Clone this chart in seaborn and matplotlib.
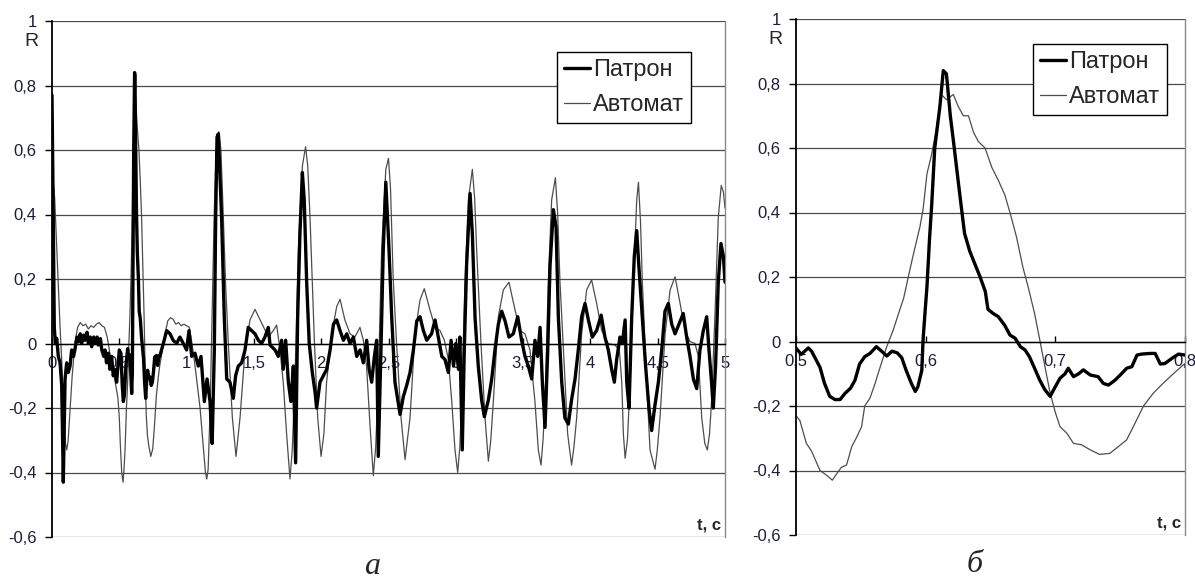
import matplotlib
matplotlib.use("Agg")
import matplotlib.pyplot as plt
from matplotlib.ticker import FuncFormatter
import seaborn as sns

# ---- data ----
# panel a: whole record, 0..5 s
t_patron = [0.0, 0.008, 0.017, 0.025, 0.035, 0.047, 0.06, 0.072, 0.084, 0.097, 0.109, 0.121, 0.134,
            0.146, 0.16, 0.17, 0.185, 0.196, 0.21, 0.22, 0.235, 0.245, 0.26, 0.27, 0.285, 0.295,
            0.31, 0.32, 0.335, 0.344, 0.36, 0.37, 0.385, 0.394, 0.405, 0.419, 0.43, 0.443, 0.455,
            0.468, 0.48, 0.49, 0.5, 0.512, 0.522, 0.53, 0.538, 0.549, 0.562, 0.57, 0.578, 0.585,
            0.592, 0.597, 0.5995, 0.603, 0.607, 0.6136, 0.616, 0.6213, 0.628, 0.634, 0.642, 0.648,
            0.656, 0.665, 0.673, 0.68, 0.688, 0.696, 0.7036, 0.71, 0.718, 0.727, 0.737, 0.746,
            0.755, 0.763, 0.777, 0.785, 0.795, 0.8, 0.827, 0.852, 0.877, 0.9, 0.926, 0.95, 0.976,
            1.0, 1.018, 1.038, 1.062, 1.087, 1.107, 1.132, 1.152, 1.174, 1.19, 1.206, 1.216, 1.226,
            1.236, 1.245, 1.26, 1.28, 1.298, 1.322, 1.347, 1.364, 1.384, 1.409, 1.434, 1.458,
            1.483, 1.508, 1.533, 1.557, 1.582, 1.607, 1.62, 1.632, 1.657, 1.681, 1.706, 1.718,
            1.736, 1.756, 1.775, 1.793, 1.81, 1.825, 1.842, 1.86, 1.874, 1.892, 1.911, 1.934,
            1.954, 1.966, 1.991, 2.016, 2.041, 2.066, 2.091, 2.115, 2.14, 2.165, 2.19, 2.214,
            2.239, 2.264, 2.289, 2.313, 2.338, 2.356, 2.375, 2.395, 2.412, 2.424, 2.444, 2.461,
            2.48, 2.504, 2.524, 2.548, 2.586, 2.61, 2.635, 2.66, 2.685, 2.71, 2.734, 2.759, 2.784,
            2.82, 2.846, 2.87, 2.896, 2.92, 2.945, 2.965, 2.983, 3.0, 3.02, 3.03, 3.048, 3.063,
            3.08, 3.106, 3.123, 3.143, 3.167, 3.192, 3.212, 3.242, 3.267, 3.291, 3.316, 3.341,
            3.366, 3.395, 3.427, 3.46, 3.489, 3.514, 3.539, 3.564, 3.588, 3.608, 3.626, 3.643,
            3.663, 3.683, 3.7, 3.725, 3.745, 3.762, 3.787, 3.81, 3.836, 3.86, 3.886, 3.91, 3.935,
            3.96, 3.985, 4.014, 4.046, 4.08, 4.108, 4.133, 4.158, 4.178, 4.195, 4.22, 4.237, 4.258,
            4.27, 4.287, 4.307, 4.326, 4.344, 4.36, 4.386, 4.41, 4.435, 4.455, 4.48, 4.505, 4.53,
            4.554, 4.579, 4.604, 4.629, 4.658, 4.69, 4.715, 4.74, 4.765, 4.79, 4.814, 4.839,
            4.864, 4.881, 4.9, 4.913, 4.93, 4.95, 4.97, 4.988, 5.0]
patron = [0.77, 0.45, 0.05, 0.0, 0.016, -0.04, -0.06, -0.13, -0.43, -0.11, -0.06, -0.09, -0.07,
          -0.02, -0.04, -0.02, 0.02, 0.005, 0.03, 0.0, 0.026, 0.01, 0.035, 0.0, 0.02, -0.01,
          0.02, 0.0, 0.02, -0.005, 0.015, -0.02, -0.04, -0.02, -0.06, -0.03, -0.08, -0.04, -0.1,
          -0.08, -0.12, -0.07, -0.02, -0.03, -0.13, -0.18, -0.16, -0.07, -0.016, -0.045, -0.035, -0.09,
          -0.155, -0.09, 0.09, 0.335, 0.6, 0.84, 0.83, 0.625, 0.4, 0.28, 0.2, 0.1,
          0.077, 0.02, -0.016, -0.047, -0.12, -0.17, -0.114, -0.083, -0.1, -0.104, -0.13, -0.12,
          -0.083, -0.042, -0.037, -0.068, -0.039, -0.04, 0.0, 0.04, 0.03, 0.01, 0.0, 0.02, 0.0,
          -0.02, 0.04, -0.04, -0.03, -0.07, -0.04, -0.18, -0.11, -0.18, -0.31, -0.02, 0.39, 0.64,
          0.65, 0.55, 0.39, 0.08, -0.11, -0.12, -0.17, -0.1, -0.07, -0.06, -0.02, 0.05,
          0.04, 0.03, 0.01, 0.0, 0.02, 0.05, -0.005, -0.01, -0.02, -0.04, 0.01, -0.08,
          0.01, -0.12, -0.18, -0.07, -0.37, 0.08, 0.34, 0.53, 0.445, 0.19, 0.0, -0.09,
          -0.15, -0.2, -0.12, -0.1, -0.08, -0.02, 0.06, 0.073, 0.04, 0.01, 0.03, 0.0,
          0.02, -0.04, -0.02, -0.06, 0.01, -0.08, -0.12, -0.04, 0.01, -0.35, -0.02, 0.29,
          0.5, 0.29, 0.08, -0.12, -0.22, -0.165, -0.13, -0.09, -0.02, 0.07, 0.083, 0.04, 0.01,
          0.03, 0.073, 0.02, -0.04, -0.05, -0.09, 0.01, -0.07, 0.0, -0.08, 0.02, -0.33, -0.02,
          0.24, 0.465, 0.34, 0.08, -0.07, -0.175, -0.227, -0.175, -0.11, -0.02, 0.06, 0.1,
          0.07, 0.02, 0.03, 0.083, 0.01, -0.04, -0.07, -0.11, 0.01, -0.04, 0.05, -0.12,
          -0.26, -0.02, 0.24, 0.415, 0.36, 0.08, -0.12, -0.23, -0.25, -0.175, -0.11, -0.02, 0.083,
          0.124, 0.073, 0.02, 0.04, 0.088, 0.02, -0.02, -0.08, -0.12, -0.05, 0.02, 0.0, 0.073,
          -0.12, -0.2, 0.083, 0.27, 0.35, 0.24, 0.08, -0.07, -0.2, -0.27, -0.19, -0.12, -0.02,
          0.1, 0.124, 0.06, 0.03, 0.06, 0.093, 0.02, -0.04, -0.11, -0.14, -0.02, 0.04,
          0.083, -0.02, -0.12, -0.2, -0.07, 0.19, 0.31, 0.27, 0.19]

t_avtomat = [0.0, 0.02, 0.035, 0.047, 0.06, 0.072, 0.085, 0.1, 0.11, 0.12, 0.135, 0.15, 0.17, 0.19,
             0.21, 0.23, 0.25, 0.27, 0.29, 0.31, 0.33, 0.35, 0.37, 0.39, 0.41, 0.43, 0.45, 0.47,
             0.49, 0.5, 0.508, 0.518, 0.528, 0.535, 0.543, 0.553, 0.561, 0.57, 0.58, 0.5866,
             0.5956, 0.601, 0.6085, 0.6123, 0.616, 0.6213, 0.629, 0.6368, 0.6458, 0.656, 0.665,
             0.675, 0.684, 0.692, 0.7, 0.709, 0.72, 0.734, 0.7486, 0.7614, 0.7756, 0.791, 0.8,
             0.82, 0.84, 0.86, 0.88, 0.9, 0.92, 0.94, 0.96, 0.98, 1.0, 1.02, 1.04, 1.06, 1.08,
             1.1, 1.12, 1.14, 1.15, 1.16, 1.175, 1.19, 1.205, 1.22, 1.24, 1.255, 1.273, 1.29,
             1.31, 1.34, 1.367, 1.397, 1.434, 1.471, 1.508, 1.558, 1.608, 1.644, 1.669, 1.694,
             1.718, 1.743, 1.768, 1.785, 1.805, 1.83, 1.86, 1.884, 1.9, 1.917, 1.95, 1.974,
             1.999, 2.02, 2.04, 2.078, 2.115, 2.14, 2.176, 2.214, 2.25, 2.288, 2.313, 2.337,
             2.362, 2.387, 2.405, 2.424, 2.449, 2.48, 2.5, 2.515, 2.535, 2.56, 2.593, 2.623,
             2.64, 2.66, 2.697, 2.734, 2.766, 2.808, 2.846, 2.883, 2.915, 2.945, 2.97, 2.994,
             3.014, 3.03, 3.044, 3.068, 3.093, 3.123, 3.14, 3.155, 3.187, 3.217, 3.242, 3.26,
             3.279, 3.316, 3.353, 3.395, 3.44, 3.477, 3.514, 3.551, 3.588, 3.613, 3.633, 3.648,
             3.663, 3.687, 3.712, 3.74, 3.757, 3.774, 3.806, 3.831, 3.86, 3.878, 3.898, 3.935,
             3.972, 4.009, 4.046, 4.084, 4.133, 4.183, 4.215, 4.233, 4.245, 4.258, 4.275, 4.295,
             4.32, 4.344, 4.357, 4.372, 4.386, 4.418, 4.443, 4.48, 4.497, 4.517, 4.555, 4.592,
             4.629, 4.666, 4.703, 4.74, 4.777, 4.802, 4.827, 4.85, 4.869, 4.885, 4.9, 4.925,
             4.95, 4.972, 4.988, 5.0]
avtomat = [0.55, 0.45, 0.3, 0.18, 0.05, -0.05, -0.2, -0.31, -0.33, -0.3, -0.2, -0.1, 0.0, 0.05,
           0.065, 0.055, 0.06, 0.045, 0.055, 0.05, 0.06, 0.065, 0.055, 0.05, 0.02, -0.03, -0.08, -0.12,
           -0.17, -0.23, -0.316, -0.4, -0.43, -0.39, -0.326, -0.2, -0.13, -0.016, 0.098, 0.2,
           0.356, 0.52, 0.666, 0.765, 0.75, 0.766, 0.7, 0.65, 0.6, 0.5, 0.4,
           0.23, 0.087, -0.078, -0.22, -0.285, -0.32, -0.35, -0.326, -0.254, -0.16, -0.1, -0.07,
           -0.02, 0.03, 0.07, 0.08, 0.075, 0.06, 0.065, 0.055, 0.06, 0.055, 0.05, 0.0, -0.06, -0.13,
           -0.2, -0.3, -0.4, -0.42, -0.39, -0.2, 0.1, 0.4, 0.6, 0.657, 0.6, 0.39, 0.18,
           0.0, -0.23, -0.35, -0.23, -0.02, 0.073, 0.106, 0.063, 0.02, 0.04, 0.057, -0.02,
           -0.12, -0.28, -0.42, -0.33, -0.12, 0.29, 0.55, 0.61, 0.55, 0.39, 0.0, -0.23,
           -0.35, -0.28, -0.12, 0.03, 0.114, 0.137, 0.073, 0.03, 0.02, 0.05, 0.01, -0.07,
           -0.25, -0.41, -0.32, -0.12, 0.29, 0.54, 0.574, 0.48, 0.2, 0.0, -0.23, -0.36,
           -0.3, -0.23, 0.03, 0.135, 0.17, 0.104, 0.05, 0.04, 0.01, -0.05, -0.18, -0.33,
           -0.4, -0.32, -0.18, 0.19, 0.445, 0.54, 0.45, 0.29, 0.0, -0.23, -0.365, -0.3,
           -0.18, 0.083, 0.166, 0.19, 0.104, 0.04, 0.03, -0.02, -0.18, -0.33, -0.377, -0.3,
           -0.18, 0.19, 0.445, 0.514, 0.4, 0.19, -0.07, -0.28, -0.377, -0.32, -0.23, 0.03,
           0.166, 0.197, 0.125, 0.04, 0.0, -0.005, -0.02, -0.12, -0.28, -0.356, -0.3, -0.12,
           0.19, 0.445, 0.5, 0.38, 0.19, -0.12, -0.33, -0.39, -0.33, -0.23, 0.03, 0.166,
           0.207, 0.125, 0.04, 0.006, 0.0, -0.04, -0.23, -0.31, -0.33, -0.28, -0.18, 0.083,
           0.39, 0.49, 0.47, 0.42]

# panel б: one shot, 0.5..0.8 s
tz_patron = [0.5, 0.504, 0.5095, 0.512, 0.5185, 0.522, 0.526, 0.53, 0.534, 0.538, 0.542, 0.5455,
             0.549, 0.553, 0.557, 0.562, 0.566, 0.57, 0.574, 0.578, 0.5815, 0.585, 0.589, 0.592,
             0.594, 0.597, 0.598, 0.5995, 0.601, 0.603, 0.6046, 0.607, 0.611, 0.6136, 0.616,
             0.619, 0.6213, 0.625, 0.628, 0.63, 0.634, 0.638, 0.642, 0.646, 0.648, 0.652, 0.656,
             0.661, 0.665, 0.669, 0.673, 0.6766, 0.68, 0.684, 0.688, 0.692, 0.696, 0.7, 0.7036,
             0.7075, 0.71, 0.714, 0.718, 0.7216, 0.727, 0.733, 0.737, 0.741, 0.746, 0.751, 0.755,
             0.759, 0.763, 0.7666, 0.773, 0.777, 0.781, 0.7846, 0.79, 0.795, 0.8]
zoom_patron = [-0.02, -0.04, -0.02, -0.03, -0.08, -0.13, -0.17, -0.18, -0.18, -0.16, -0.145, -0.12,
               -0.07, -0.047, -0.037, -0.016, -0.03, -0.045, -0.03, -0.035, -0.05, -0.09, -0.13, -0.155,
               -0.14, -0.09, 0.005, 0.09, 0.17, 0.32, 0.42, 0.6, 0.73, 0.84, 0.83,
               0.7, 0.625, 0.5, 0.4, 0.335, 0.28, 0.24, 0.2, 0.155, 0.1, 0.087, 0.077,
               0.05, 0.02, 0.01, -0.016, -0.026, -0.047, -0.083, -0.12, -0.15, -0.17, -0.14, -0.114,
               -0.1, -0.083, -0.109, -0.1, -0.088, -0.104, -0.109, -0.13, -0.135, -0.12, -0.1, -0.083,
               -0.078, -0.042, -0.039, -0.037, -0.037, -0.07, -0.068, -0.052, -0.039, -0.042]

tz_avtomat = [0.5, 0.503, 0.508, 0.512, 0.5185, 0.5237, 0.528, 0.5314, 0.535, 0.539, 0.543, 0.547,
              0.5506, 0.553, 0.557, 0.561, 0.565, 0.57, 0.575, 0.58, 0.583, 0.5866, 0.5905, 0.5956,
              0.598, 0.601, 0.6046, 0.6085, 0.6123, 0.616, 0.6213, 0.625, 0.629, 0.633, 0.6368,
              0.6406, 0.6458, 0.651, 0.656, 0.661, 0.665, 0.67, 0.675, 0.679, 0.684, 0.688, 0.692,
              0.696, 0.7, 0.7036, 0.709, 0.714, 0.72, 0.727, 0.734, 0.742, 0.7486, 0.755, 0.7614,
              0.768, 0.7756, 0.783, 0.791, 0.8]
zoom_avtomat = [-0.23, -0.245, -0.316, -0.34, -0.4, -0.415, -0.43, -0.41, -0.39, -0.383, -0.326, -0.295,
                -0.264, -0.2, -0.176, -0.13, -0.078, -0.016, 0.036, 0.098, 0.134, 0.2, 0.27, 0.356,
                0.41, 0.52, 0.58, 0.666, 0.765, 0.75, 0.766, 0.73, 0.7, 0.7, 0.65,
                0.62, 0.6, 0.54, 0.5, 0.455, 0.4, 0.325, 0.23, 0.17, 0.087, 0.005, -0.078,
                -0.16, -0.22, -0.264, -0.285, -0.316, -0.32, -0.336, -0.35, -0.347, -0.326, -0.305, -0.254,
                -0.2, -0.16, -0.13, -0.1, -0.068]

series_names = ["Патрон", "Автомат"]
y_ticks = [-0.6, -0.4, -0.2, 0.0, 0.2, 0.4, 0.6, 0.8, 1.0]
x_ticks_full = [0, 0.5, 1, 1.5, 2, 2.5, 3, 3.5, 4, 4.5, 5]
x_ticks_zoom = [0.5, 0.6, 0.7, 0.8]


def comma_fmt(v, pos=None):
    s = f"{v:.1f}".replace(".", ",")
    if s.endswith(",0"):
        s = s[:-2]
    if s == "-0":
        s = "0"
    return s


sns.set_style("white")
plt.rcParams['font.family'] = ['Liberation Sans', 'DejaVu Sans']

TICK_COLOR = "#1c1c3c"
GRID_COLOR = "#4a4a4a"
THIN_COLOR = "#4d4d4d"


def draw_panel(ax, t1, y1, t2, y2, xlim, xticks, legend_xy):
    sns.lineplot(x=t2, y=y2, ax=ax, color=THIN_COLOR, linewidth=0.9, sort=False,
                 estimator=None, zorder=2, label=series_names[1])
    sns.lineplot(x=t1, y=y1, ax=ax, color="black", linewidth=2.4, sort=False,
                 estimator=None, zorder=3, label=series_names[0])
    ax.set_xlim(*xlim)
    ax.set_ylim(-0.6, 1.0)
    ax.set_yticks(y_ticks)
    ax.set_xticks(xticks)
    ax.xaxis.set_major_formatter(FuncFormatter(comma_fmt))
    ax.yaxis.set_major_formatter(FuncFormatter(comma_fmt))
    ax.set_xlabel("")
    ax.set_ylabel("")

    ax.set_axisbelow(True)
    ax.yaxis.grid(True, color=GRID_COLOR, linewidth=0.9)
    ax.xaxis.grid(False)

    # x axis crosses at zero, like the original spreadsheet chart
    ax.spines["bottom"].set_position(("data", 0))
    ax.spines["bottom"].set_color("black")
    ax.spines["bottom"].set_linewidth(1.0)
    ax.spines["left"].set_color("black")
    ax.spines["left"].set_linewidth(1.3)
    ax.spines["right"].set_visible(True)
    ax.spines["right"].set_color("#8a8a8a")
    ax.spines["right"].set_linewidth(1.0)
    ax.spines["top"].set_visible(False)

    ax.tick_params(axis="x", direction="in", length=4, width=1, pad=9,
                   labelsize=12, labelcolor=TICK_COLOR, bottom=True, color="black")
    ax.tick_params(axis="y", direction="out", length=5, width=1, pad=6,
                   labelsize=12, labelcolor=TICK_COLOR, left=True, color="black")

    ax.annotate("R", xy=(0, 1), xycoords="axes fraction", xytext=(-14.5, -15),
                textcoords="offset points", ha="center", va="center", fontsize=14)
    ax.annotate("t, c", xy=(1, 0), xycoords="axes fraction", xytext=(-2.5, 8.5),
                textcoords="offset points", ha="right", va="center", fontsize=12,
                fontweight="bold")

    handles, labels = ax.get_legend_handles_labels()
    order = [labels.index(n) for n in series_names]
    leg = ax.legend([handles[i] for i in order], [labels[i] for i in order],
                    loc="upper left", bbox_to_anchor=legend_xy, frameon=True,
                    fancybox=False, edgecolor="black", framealpha=1, fontsize=17,
                    handlelength=1.1, handletextpad=0.12, borderpad=0.3,
                    labelspacing=0.55, borderaxespad=0)
    leg.get_frame().set_linewidth(1.0)


fig = plt.figure(figsize=(11.95, 5.81), dpi=100)
ax_a = fig.add_axes([52 / 1195, 1 - 537 / 581, 673 / 1195, 516 / 581])
ax_b = fig.add_axes([796 / 1195, 1 - 535 / 581, 389 / 1195, 516 / 581])

draw_panel(ax_a, t_patron, patron, t_avtomat, avtomat, (0, 5), x_ticks_full, (0.750, 0.940))
draw_panel(ax_b, tz_patron, zoom_patron, tz_avtomat, zoom_avtomat, (0.5, 0.8), x_ticks_zoom,
           (0.609, 0.952))

fig.text(372 / 1195, 1 - 567 / 581, "а", family=["Liberation Serif", "DejaVu Serif"],
         style="italic", fontsize=23, ha="center", va="center")
fig.text(975 / 1195, 1 - 564 / 581, "б", family=["Liberation Serif", "DejaVu Serif"],
         style="italic", fontsize=23, ha="center", va="center")

fig.savefig("out.png", dpi=100, facecolor="white")
